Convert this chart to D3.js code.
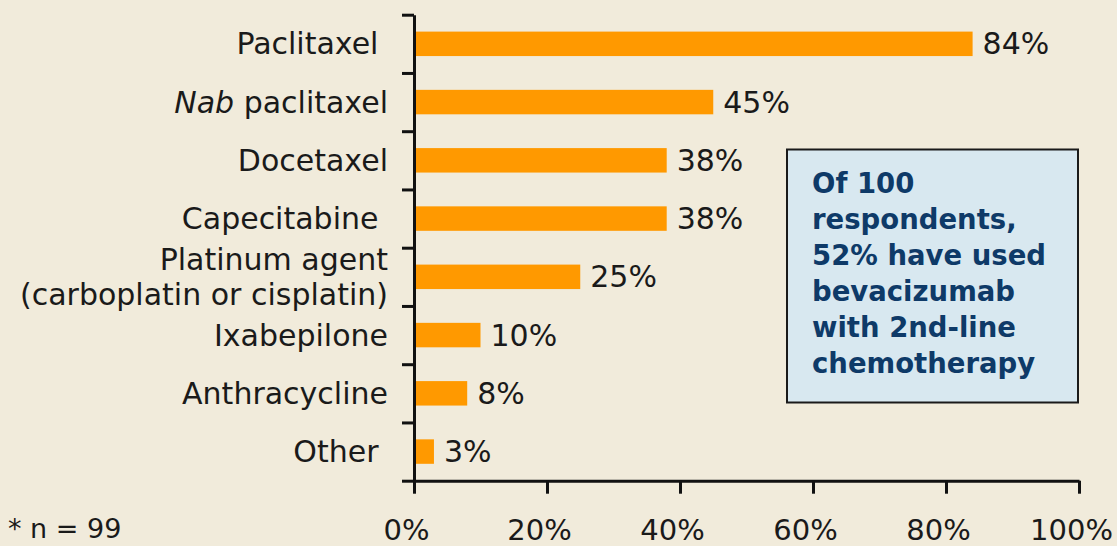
<!DOCTYPE html>
<html>
<head>
<meta charset="utf-8">
<script src="https://cdn.jsdelivr.net/npm/d3@7"></script>
<style>
  body { margin: 0; background: #f1ebdb; }
  svg { display: block; font-family: "DejaVu Sans", Verdana, sans-serif; }
  text { white-space: pre; }
</style>
</head>
<body>
<div id="chart"></div>
<script>
// Second-line agents used (% of respondents)
var categories = ["Paclitaxel ", "Nab paclitaxel", "Docetaxel", "Capecitabine ",
                  "Platinum agent|(carboplatin or cisplatin)", "Ixabepilone", "Anthracycline", "Other "];
var values = [84, 45, 38, 38, 25, 10, 8, 3];
var xTicks = [0, 20, 40, 60, 80, 100];
var boxLines = ["Of 100", "respondents,", "52% have used", "bevacizumab", "with 2nd-line", "chemotherapy"];
var footnote = "* n = 99";

var width = 1117, height = 546;
var svg = d3.select("#chart").append("svg").attr("width", width).attr("height", height);
svg.append("rect").attr("width", width).attr("height", height).attr("fill", "#f1ebdb");

var x = d3.scaleLinear().domain([0, 100]).range([414, 1079]);
var y = d3.scaleBand().domain(categories).range([14.7, 480.7]).paddingInner(0.58).paddingOuter(0.29);
// band boundaries for the category ticks
var yEdge = d3.scaleLinear().domain([0, categories.length]).range([14.7, 480.7]);

// bars
svg.selectAll("rect.bar").data(values)
  .enter().append("rect")
  .attr("class", "bar")
  .attr("fill", "#ff9900")
  .attr("x", x(0))
  .attr("y", function(d, i){ return y(categories[i]); })
  .attr("width", function(d){ return x(d) - x(0); })
  .attr("height", y.bandwidth());

// value labels
svg.selectAll("text.val").data(values)
  .enter().append("text")
  .attr("class", "val")
  .attr("x", function(d){ return x(d) + 10; })
  .attr("y", function(d, i){ return y(categories[i]) + y.bandwidth() / 2; })
  .attr("dy", "0.35em")
  .attr("font-size", 30)
  .attr("fill", "#1a1a1a")
  .text(function(d){ return d + "%"; });

// category labels
var labels = svg.selectAll("text.cat").data(categories)
  .enter().append("text")
  .attr("class", "cat")
  .attr("text-anchor", "end")
  .attr("font-size", 30)
  .attr("fill", "#1a1a1a")
  .attr("y", function(d){ return y(d) + y.bandwidth() / 2; });
labels.each(function(d){
  var t = d3.select(this);
  var parts = d.split("|");
  if (d.indexOf("Nab") === 0) {
    t.append("tspan").attr("x", 388).attr("dy", "0.35em").attr("font-style", "italic").text("Nab");
    t.append("tspan").text(d.slice(3));
  } else {
    parts.forEach(function(p, k){
      t.append("tspan").attr("x", 388)
        .attr("dy", k === 0 ? (0.35 - (parts.length - 1) * 0.585) + "em" : "1.17em")
        .text(p);
    });
  }
});

// y axis (ticks at band edges)
var yAxis = d3.axisLeft(yEdge).tickValues(d3.range(categories.length + 1))
  .tickSize(12).tickSizeOuter(0).tickFormat("");
var gy = svg.append("g").attr("transform", "translate(" + x(0) + ",0)").call(yAxis);

// x axis
var xAxis = d3.axisBottom(x).tickValues(xTicks).tickSize(13).tickSizeOuter(0)
  .tickPadding(28).tickFormat(function(d){ return d + "%"; });
var gx = svg.append("g").attr("transform", "translate(0," + yEdge(categories.length) + ")").call(xAxis);
gx.selectAll("text").attr("font-size", 29).attr("fill", "#1a1a1a")
  .attr("font-family", "DejaVu Sans").attr("dy", "0");
gx.selectAll(".tick text").attr("y", 59).attr("dx", -8);

[gx, gy].forEach(function(g){
  g.selectAll("path, line").attr("stroke", "#111").attr("stroke-width", 3);
});

// note box
svg.append("rect")
  .attr("x", 787).attr("y", 149.5).attr("width", 291).attr("height", 253)
  .attr("fill", "#d8e8f0").attr("stroke", "#1a1a1a").attr("stroke-width", 2);
svg.selectAll("text.box").data(boxLines)
  .enter().append("text")
  .attr("class", "box")
  .attr("x", 812)
  .attr("y", function(d, i){ return 193 + i * 36; })
  .attr("font-size", 27.5)
  .attr("font-weight", "bold")
  .attr("fill", "#0e3a68")
  .text(String);

// footnote
svg.append("text")
  .attr("x", 8).attr("y", 538)
  .attr("font-size", 27)
  .attr("fill", "#1a1a1a")
  .text(footnote);
</script>
</body>
</html>
